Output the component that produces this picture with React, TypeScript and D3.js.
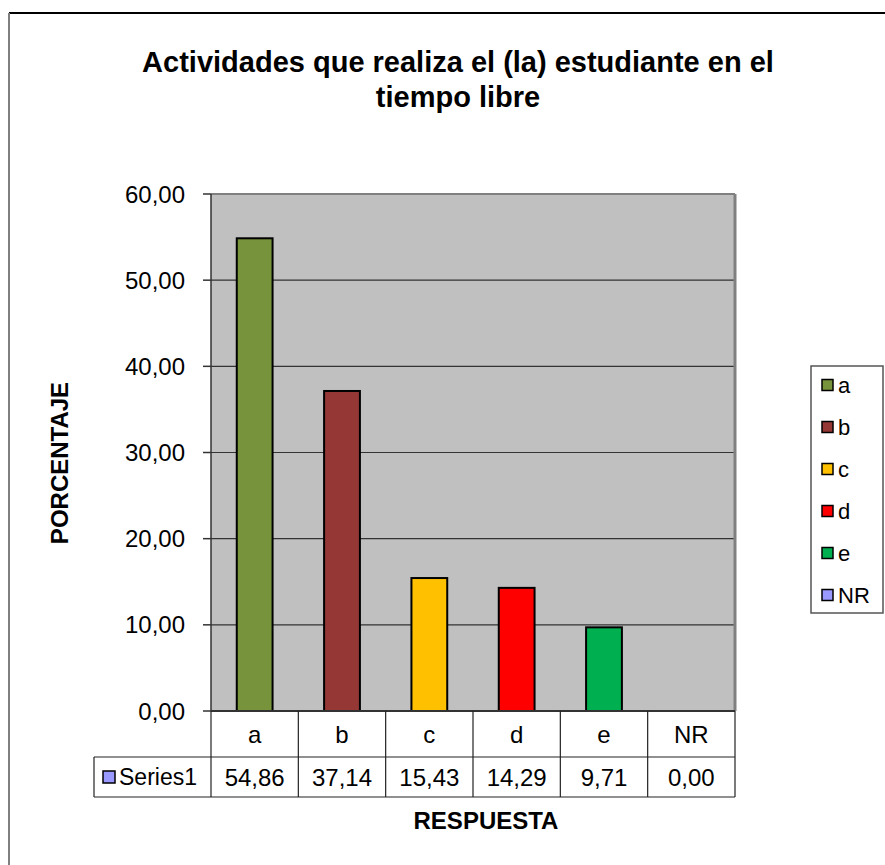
import React from "react";
import * as d3 from "d3";

const categories = ["a", "b", "c", "d", "e", "NR"];
const values = [54.86, 37.14, 15.43, 14.29, 9.71, 0.0];
const colors = ["#77933C", "#953735", "#FFC000", "#FF0000", "#00B050", "#9999FF"];
const yTicks = [0, 10, 20, 30, 40, 50, 60];
const seriesName = "Series1";
const title = ["Actividades que realiza el (la) estudiante en el", "tiempo libre"];
const xTitle = "RESPUESTA";
const yTitle = "PORCENTAJE";

const FONT = "Arial, 'Liberation Sans', sans-serif";
const fmt = (v: number) => d3.format(".2f")(v).replace(".", ",");

export default function App() {
  const W = 885, H = 865;
  const plot = { left: 211, right: 735, top: 194, bottom: 711 };
  const y = d3.scaleLinear().domain([0, 60]).range([plot.bottom, plot.top]);
  const x = d3.scaleBand<string>().domain(categories).range([plot.left, plot.right]).paddingInner(0).paddingOuter(0);
  const bw = x.bandwidth();
  const barW = bw * 0.41;
  const row1 = plot.bottom, row2 = 757, row3 = 797;
  const tableLeft = 94;
  const legend = { x: 811, y: 366, w: 72, h: 247 };

  return (
    <svg width={W} height={H} style={{ position: "absolute", left: 0, top: 0, background: "#fff" }} fontFamily={FONT}>
      <rect x={0} y={0} width={W} height={H} fill="#fff" />
      {/* outer frame */}
      <line x1={9} y1={13} x2={W} y2={13} stroke="#000" strokeWidth={2} />
      <line x1={9} y1={13} x2={9} y2={H} stroke="#808080" strokeWidth={2} />

      {/* title */}
      {title.map((t, i) => (
        <text key={i} x={458} y={72 + i * 35} textAnchor="middle" fontSize={29} fontWeight="bold" fill="#000">{t}</text>
      ))}

      {/* plot area */}
      <rect x={plot.left} y={plot.top} width={plot.right - plot.left} height={plot.bottom - plot.top} fill="#C0C0C0" />
      {yTicks.filter(t => t > 0 && t < 60).map(t => (
        <line key={t} x1={plot.left} x2={plot.right} y1={y(t)} y2={y(t)} stroke="#333" strokeWidth={1.2} />
      ))}
      <line x1={plot.left} x2={plot.right} y1={plot.top} y2={plot.top} stroke="#808080" strokeWidth={2} />
      <line x1={plot.right} x2={plot.right} y1={plot.top} y2={plot.bottom} stroke="#808080" strokeWidth={3} />

      {/* bars */}
      {categories.map((c, i) => values[i] > 0 && (
        <rect key={c} x={(x(c) as number) + bw / 2 - barW / 2} y={y(values[i])} width={barW} height={y(0) - y(values[i])}
          fill={colors[i]} stroke="#000" strokeWidth={2} />
      ))}

      {/* y axis */}
      <line x1={plot.left} x2={plot.left} y1={plot.top} y2={plot.bottom} stroke="#333" strokeWidth={1.5} />
      {yTicks.map(t => (
        <g key={t}>
          <line x1={203} x2={plot.left} y1={y(t)} y2={y(t)} stroke="#333" strokeWidth={1.5} />
          <text x={185} y={y(t)} dy="0.36em" textAnchor="end" fontSize={24} fill="#000">{fmt(t)}</text>
        </g>
      ))}
      <text transform={`translate(68,${463}) rotate(-90)`} textAnchor="middle" fontSize={24} fontWeight="bold" fill="#000">{yTitle}</text>

      {/* data table */}
      <g stroke="#222" strokeWidth={1.2}>
        <line x1={plot.left} x2={plot.right} y1={row1} y2={row1} stroke="#333" strokeWidth={2} />
        <line x1={tableLeft} x2={plot.right} y1={row2} y2={row2} />
        <line x1={tableLeft} x2={plot.right} y1={row3} y2={row3} />
        <line x1={tableLeft} x2={tableLeft} y1={row2} y2={row3} />
        {categories.map(c => (
          <line key={c} x1={x(c) as number} x2={x(c) as number} y1={row1} y2={row3} />
        ))}
        <line x1={plot.right} x2={plot.right} y1={row1} y2={row3} />
      </g>
      {categories.map((c, i) => (
        <g key={c}>
          <text x={(x(c) as number) + bw / 2} y={(row1 + row2) / 2} dy="0.36em" textAnchor="middle" fontSize={24} fill="#000">{c}</text>
          <text x={(x(c) as number) + bw / 2} y={(row2 + row3) / 2} dy="0.36em" textAnchor="middle" fontSize={24} fill="#000">{fmt(values[i])}</text>
        </g>
      ))}
      <rect x={103} y={(row2 + row3) / 2 - 6} width={12} height={12} fill="#9999FF" stroke="#000" strokeWidth={1.5} />
      <text x={119} y={(row2 + row3) / 2} dy="0.36em" fontSize={23} fill="#000">{seriesName}</text>
      <text x={486} y={820} dy="0.36em" textAnchor="middle" fontSize={24} fontWeight="bold" fill="#000">{xTitle}</text>

      {/* legend */}
      <rect x={legend.x} y={legend.y} width={legend.w} height={legend.h} fill="#fff" stroke="#555" strokeWidth={1.5} />
      {categories.map((c, i) => {
        const cy = 385 + i * 42;
        return (
          <g key={c}>
            <rect x={822} y={cy - 5.5} width={11} height={11} fill={colors[i]} stroke="#000" strokeWidth={1.5} />
            <text x={838} y={cy} dy="0.36em" fontSize={22} fill="#000">{c}</text>
          </g>
        );
      })}
    </svg>
  );
}
